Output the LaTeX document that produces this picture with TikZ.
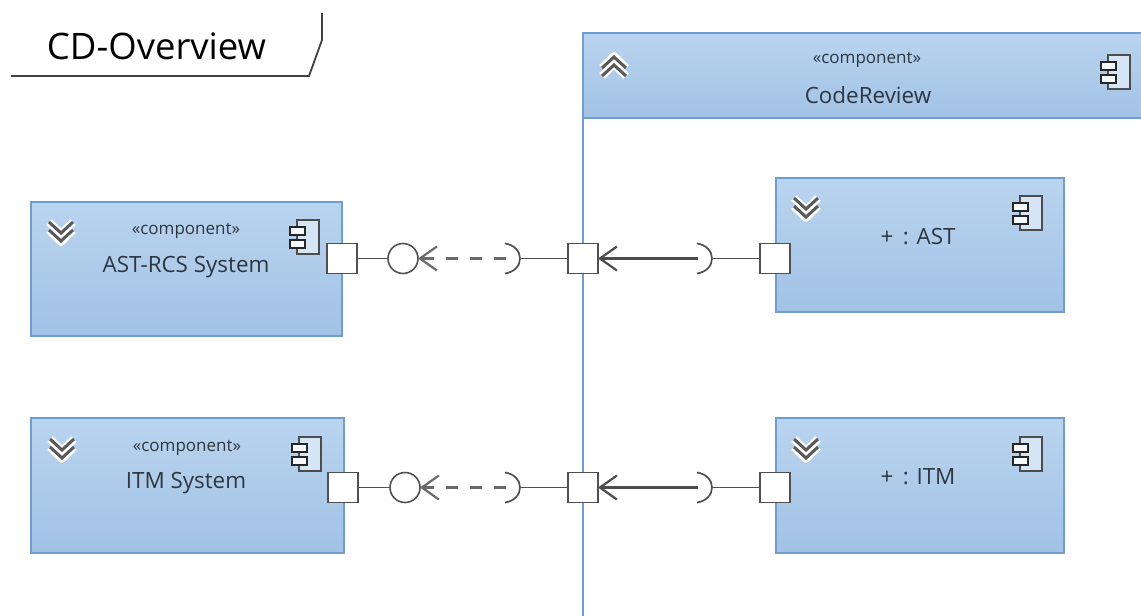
\documentclass[tikz,border=0pt]{standalone}
\usepackage{fontspec}
\setmainfont{Open Sans}
\usetikzlibrary{arrows.meta}

\definecolor{boxtop}{HTML}{B9D4EF}
\definecolor{boxmid}{HTML}{A9CBEE}
\definecolor{boxbot}{HTML}{A2C2E5}
\definecolor{boxline}{HTML}{6F9DD3}
\definecolor{wireline}{HTML}{505050}
\definecolor{textline}{HTML}{2E3640}

\tikzset{
  compbox/.style={draw=boxline, line width=2pt, top color=boxtop, middle color=boxmid, bottom color=boxbot, minimum width=#1, inner sep=0pt, outer sep=0pt},
  portbox/.style={draw=wireline, line width=1.8pt, fill=white, minimum size=30pt, inner sep=0pt, outer sep=0pt},
  lolly/.style={draw=wireline, line width=1.6pt, fill=white, circle, minimum size=30pt, inner sep=0pt, outer sep=0pt},
  wire/.style={draw=wireline, line width=1.7pt},
  stereo/.style={text=textline, font=\fontsize{17}{20}\selectfont},
  compname/.style={text=textline, font=\fontsize{22.4}{26}\selectfont},
  compicon/.pic={
    \draw[line width=2.6pt, draw=black!70, fill=boxtop!60] (0,0) rectangle (22,34);
    \draw[line width=2pt, draw=black!85, fill=white!85!boxtop] (-7,7) rectangle (8,15);
    \draw[line width=2pt, draw=black!85, fill=white!85!boxtop] (-7,20) rectangle (8,28);
  },
  chevdown/.pic={
    \foreach \yy in {-4,4} {
      \draw[white, line width=8pt, line join=round] (-12,\yy-6) -- (0,\yy+6) -- (12,\yy-6);
    }
    \foreach \yy in {-4,4} {
      \draw[black!65, line width=3pt] (-12,\yy-6) -- (0,\yy+5) -- (12,\yy-6);
    }
  },
  chevup/.pic={
    \foreach \yy in {-4,4} {
      \draw[white, line width=8pt, line join=round] (-12,\yy+6) -- (0,\yy-6) -- (12,\yy+6);
    }
    \foreach \yy in {-4,4} {
      \draw[black!65, line width=3pt] (-12,\yy+6) -- (0,\yy-5) -- (12,\yy+6);
    }
  },
  socket/.pic={
    \draw[wireline, line width=1.7pt] (-16,-15) .. controls (4,-12) and (4,12) .. (-16,15);
  }
}

\begin{document}
\begin{tikzpicture}[x=1pt, y=-1pt]
\useasboundingbox (0,0) rectangle (1141,616);

\draw[line width=1.8pt, draw=black!75] (11,76) -- (309,76) -- (322,40) -- (322,13);
\node (title) at (156.5,46) {\fontsize{36.5}{42}\selectfont CD-Overview};

\node[compbox=311pt, minimum height=134pt] (astrcs) at (186,269) {};
\node[compbox=313pt, minimum height=135pt] (itmsys) at (187.5,485.5) {};
\node[compbox=570pt, minimum height=85pt] (review) at (868,75.5) {};
\coordinate (reviewend) at (583,616);
\draw[boxline, line width=2.4pt] (review.south west) -- (reviewend);
\node[compbox=288pt, minimum height=134pt] (ast) at (920,245) {};
\node[compbox=288pt, minimum height=135pt] (itm) at (920,485.5) {};

\node[stereo] (stereoA) at (186,231) {«component»};
\node[compname] (nameA) at (186,267) {AST-RCS System};
\node[stereo] (stereoB) at (187,448) {«component»};
\node[compname] (nameB) at (186,483) {ITM System};
\node[stereo] (stereoC) at (867,60) {«component»};
\node[compname] (nameC) at (868,95.5) {CodeReview};
\node[compname] (nameD) at (918,237) {+ \,: AST};
\node[compname] (nameE) at (918,477) {+ \,: ITM};

\pic at (297,220) {compicon};
\pic at (299,437) {compicon};
\pic at (1108,55) {compicon};
\pic at (1020,196) {compicon};
\pic at (1020,437) {compicon};

\pic at (61,232) {chevdown};
\pic at (62,449) {chevdown};
\pic at (806,208) {chevdown};
\pic at (806,449) {chevdown};
\pic at (614,66) {chevup};

\node[portbox] (portA) at (342,258.5) {};
\node[portbox] (portB) at (343,487.5) {};
\node[portbox] (midA) at (583,258.5) {};
\node[portbox] (midB) at (583,487.5) {};
\node[portbox] (portC) at (775,258.5) {};
\node[portbox] (portD) at (775,487.5) {};

\node[lolly] (lollyA) at (403,258.5) {};
\node[lolly] (lollyB) at (405,487.5) {};

\coordinate (sockA) at (521,258.5);
\coordinate (sockB) at (521,487.5);
\coordinate (sockC) at (713,258.5);
\coordinate (sockD) at (713,487.5);
\coordinate (openA) at (506,258.5);
\coordinate (openB) at (506,487.5);
\coordinate (openC) at (698,258.5);
\coordinate (openD) at (698,487.5);

\pic at (sockA) {socket};
\pic at (sockB) {socket};
\pic at (sockC) {socket};
\pic at (sockD) {socket};

\draw[wire] (portA) -- (lollyA);
\draw[wire] (portB) -- (lollyB);
\draw[wire] (sockA) -- (midA);
\draw[wire] (sockB) -- (midB);
\draw[wire] (sockC) -- (portC);
\draw[wire] (sockD) -- (portD);

\draw[draw=wireline!85, line width=2.2pt, dash pattern=on 12pt off 12pt, -{Straight Barb[length=17pt,width=24pt]}] (openA) -- (lollyA);
\draw[draw=wireline!85, line width=2.2pt, dash pattern=on 12pt off 12pt, -{Straight Barb[length=17pt,width=24pt]}] (openB) -- (lollyB);
\draw[draw=black!70, line width=2.2pt, -{Straight Barb[length=17pt,width=24pt]}] (openC) -- (midA);
\draw[draw=black!70, line width=2.2pt, -{Straight Barb[length=17pt,width=24pt]}] (openD) -- (midB);
\end{tikzpicture}
\end{document}
